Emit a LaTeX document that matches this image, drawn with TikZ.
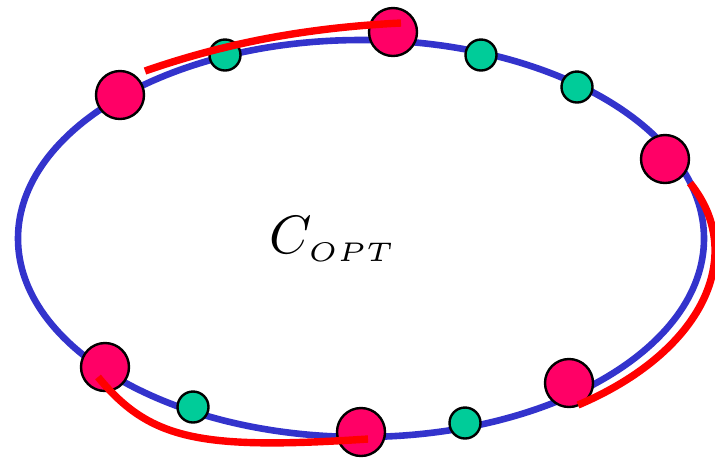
\documentclass[tikz,border=0pt]{standalone}
\usepackage{amsmath, amssymb}
\usepackage{tikz}
\usetikzlibrary{positioning,calc}
\usepackage{xcolor}
\definecolor{cycleblue}{RGB}{51,51,204}
\definecolor{stoppink}{RGB}{255,0,102}
\definecolor{stopgreen}{RGB}{0,204,153}
\definecolor{tourred}{RGB}{255,0,0}

\begin{document}
\begin{tikzpicture}[x=0.5pt, y=-0.5pt,
        every node/.style={draw, circle, line width=1.2pt, inner sep=0pt},
        big stop/.style={fill=stoppink, minimum size=24pt},
        small stop/.style={fill=stopgreen, minimum size=15.5pt},
        cycle line/.style={draw=cycleblue, line width=3.3pt},
        tour line/.style={draw=tourred, line width=3.7pt}
    ]
        \useasboundingbox (0,0) rectangle (715,457);

        \draw[cycle line] (361,238.5) ellipse [x radius=171.5pt, y radius=99.25pt];

        \node[big stop] (p1) at (120,95) {};
        \node[big stop] (p2) at (393,32) {};
        \node[big stop] (p3) at (665,159) {};
        \node[big stop] (p4) at (105,367) {};
        \node[big stop] (p5) at (361,432) {};
        \node[big stop] (p6) at (569,383) {};

        \node[small stop] (g1) at (225,55) {};
        \node[small stop] (g2) at (481,55) {};
        \node[small stop] (g3) at (577,87) {};
        \node[small stop] (g4) at (193,407) {};
        \node[small stop] (g5) at (465,423) {};

        \node[draw=none, anchor=base west, scale=2.7] (copt) at (263,253) {$C_{\scriptscriptstyle OPT}$};

        \coordinate (t1) at (145,71);
        \coordinate (t2) at (401,23);
        \coordinate (t3) at (690,183);
        \coordinate (t4) at (578,405);
        \coordinate (t5) at (98,377);
        \coordinate (t6) at (368,439);

        \draw[tour line] (t1) .. controls (220,45) and (300,28) .. (t2);
        \draw[tour line] (t3) .. controls (748,255) and (703,352) .. (t4);
        \draw[tour line] (t5) .. controls (150,440) and (200,450) .. (t6);
    \end{tikzpicture}
\end{document}
